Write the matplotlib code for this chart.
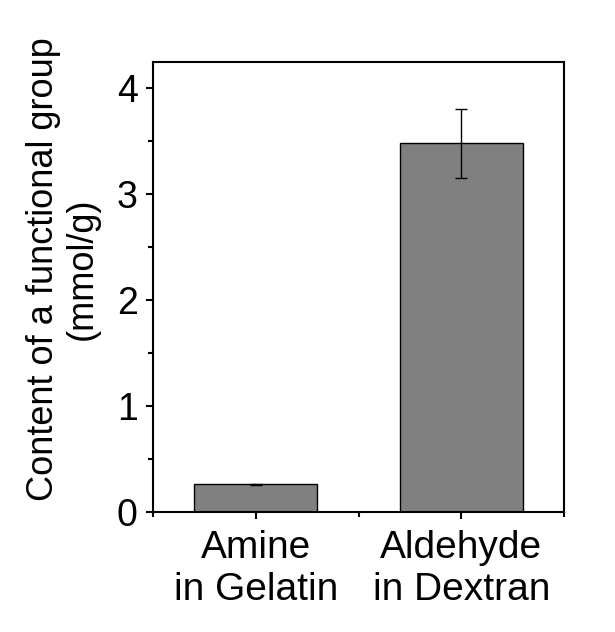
import numpy as np
import matplotlib
matplotlib.use("Agg")
import matplotlib.pyplot as plt
from matplotlib.ticker import MultipleLocator, FixedLocator

# data
categories = ["Amine\nin Gelatin", "Aldehyde\nin Dextran"]
content = [0.26, 3.48]
errors = [0.005, 0.33]

plt.rcParams['font.family'] = ['Liberation Sans', 'DejaVu Sans']

fig = plt.figure(figsize=(6.15, 6.32), dpi=100)
ax = fig.add_axes([0.249, 0.190, 0.668, 0.712])

x = np.arange(len(categories))
ax.bar(x, content, width=0.6, color='#808080', edgecolor='black', linewidth=1.0,
       yerr=errors, error_kw=dict(ecolor='black', elinewidth=1.0, capsize=4, capthick=1.0))

ax.set_xlim(-0.5, 1.5)
ax.set_ylim(0, 4.25)
ax.set_xticks(x)
ax.set_xticklabels(categories, fontsize=28, linespacing=1.2)
ax.xaxis.set_minor_locator(FixedLocator([-0.5, 0.5, 1.5]))
ax.yaxis.set_major_locator(MultipleLocator(1))
ax.yaxis.set_minor_locator(MultipleLocator(0.5))
ax.tick_params(axis='y', labelsize=27)
ax.tick_params(which='major', direction='out', length=5, width=1.5, pad=6)
ax.tick_params(which='minor', direction='out', length=3.5, width=1.5)
ax.tick_params(axis='x', which='major', pad=8)

for s in ax.spines.values():
    s.set_linewidth(1.5)

ax.set_ylabel("Content of a functional group\n(mmol/g)", fontsize=26, linespacing=1.15)
ax.yaxis.set_label_coords(-0.13, 0.54)

plt.savefig("out.png", dpi=100)
